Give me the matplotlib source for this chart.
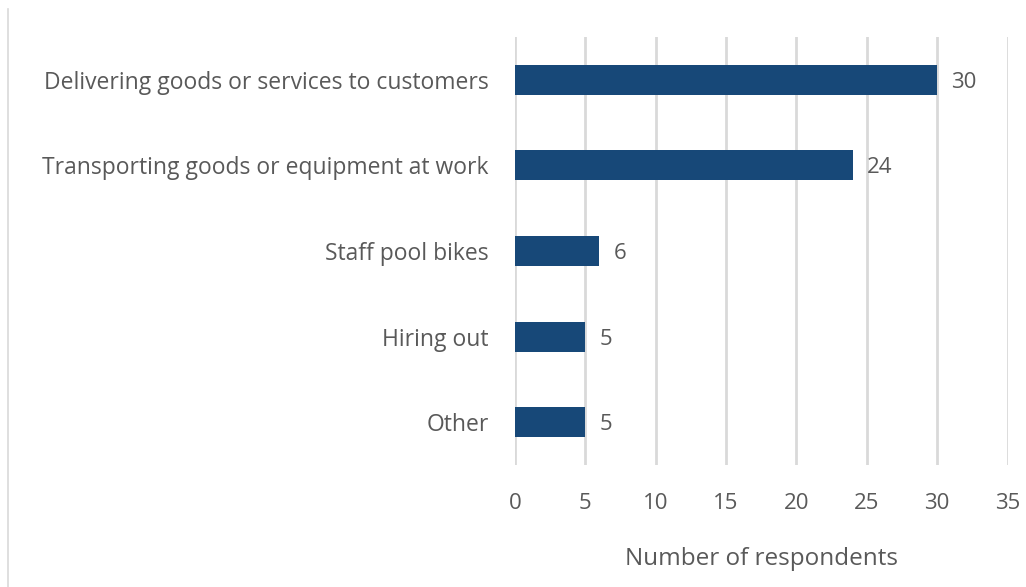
import matplotlib
matplotlib.use('Agg')
import matplotlib.pyplot as plt
from matplotlib.lines import Line2D

categories = ['Delivering goods or services to customers',
              'Transporting goods or equipment at work',
              'Staff pool bikes',
              'Hiring out',
              'Other']
respondents = [30, 24, 6, 5, 5]
xticks = [0, 5, 10, 15, 20, 25, 30, 35]

bar_col = '#174878'
txt_col = '#595959'
grid_col = '#d9d9d9'

plt.rcParams['font.family'] = ['Open Sans', 'DejaVu Sans']

fig = plt.figure(figsize=(10.26, 5.87), dpi=100)
ax = fig.add_axes([0.502, 0.208, 0.48, 0.729])

ypos = list(range(len(categories)))
ax.barh(ypos, respondents, height=0.35, color=bar_col, zorder=3)
for y, v in zip(ypos, respondents):
    ax.text(v + 1.0, y + 0.03, str(v), va='center', ha='left', fontsize=16, color=txt_col)

ax.set_ylim(len(categories) - 0.5, -0.5)
ax.set_xlim(0, 35)
ax.set_yticks(ypos)
ax.set_yticklabels(categories, fontsize=16.5, color=txt_col)
ax.set_xticks(xticks)
ax.set_xticklabels([str(t) for t in xticks], fontsize=16, color=txt_col)
ax.tick_params(axis='both', length=0)
ax.tick_params(axis='x', pad=20)
ax.tick_params(axis='y', pad=19)
ax.grid(axis='x', color=grid_col, linewidth=2, zorder=0)
for s in ax.spines.values():
    s.set_visible(False)
ax.set_xlabel('Number of respondents', fontsize=17.5, color=txt_col, labelpad=24)

# thin border on the left edge
fig.add_artist(Line2D([0.008, 0.008], [0.0, 0.985], transform=fig.transFigure,
                      color=grid_col, linewidth=1.2))

fig.savefig('out.png', dpi=100)
